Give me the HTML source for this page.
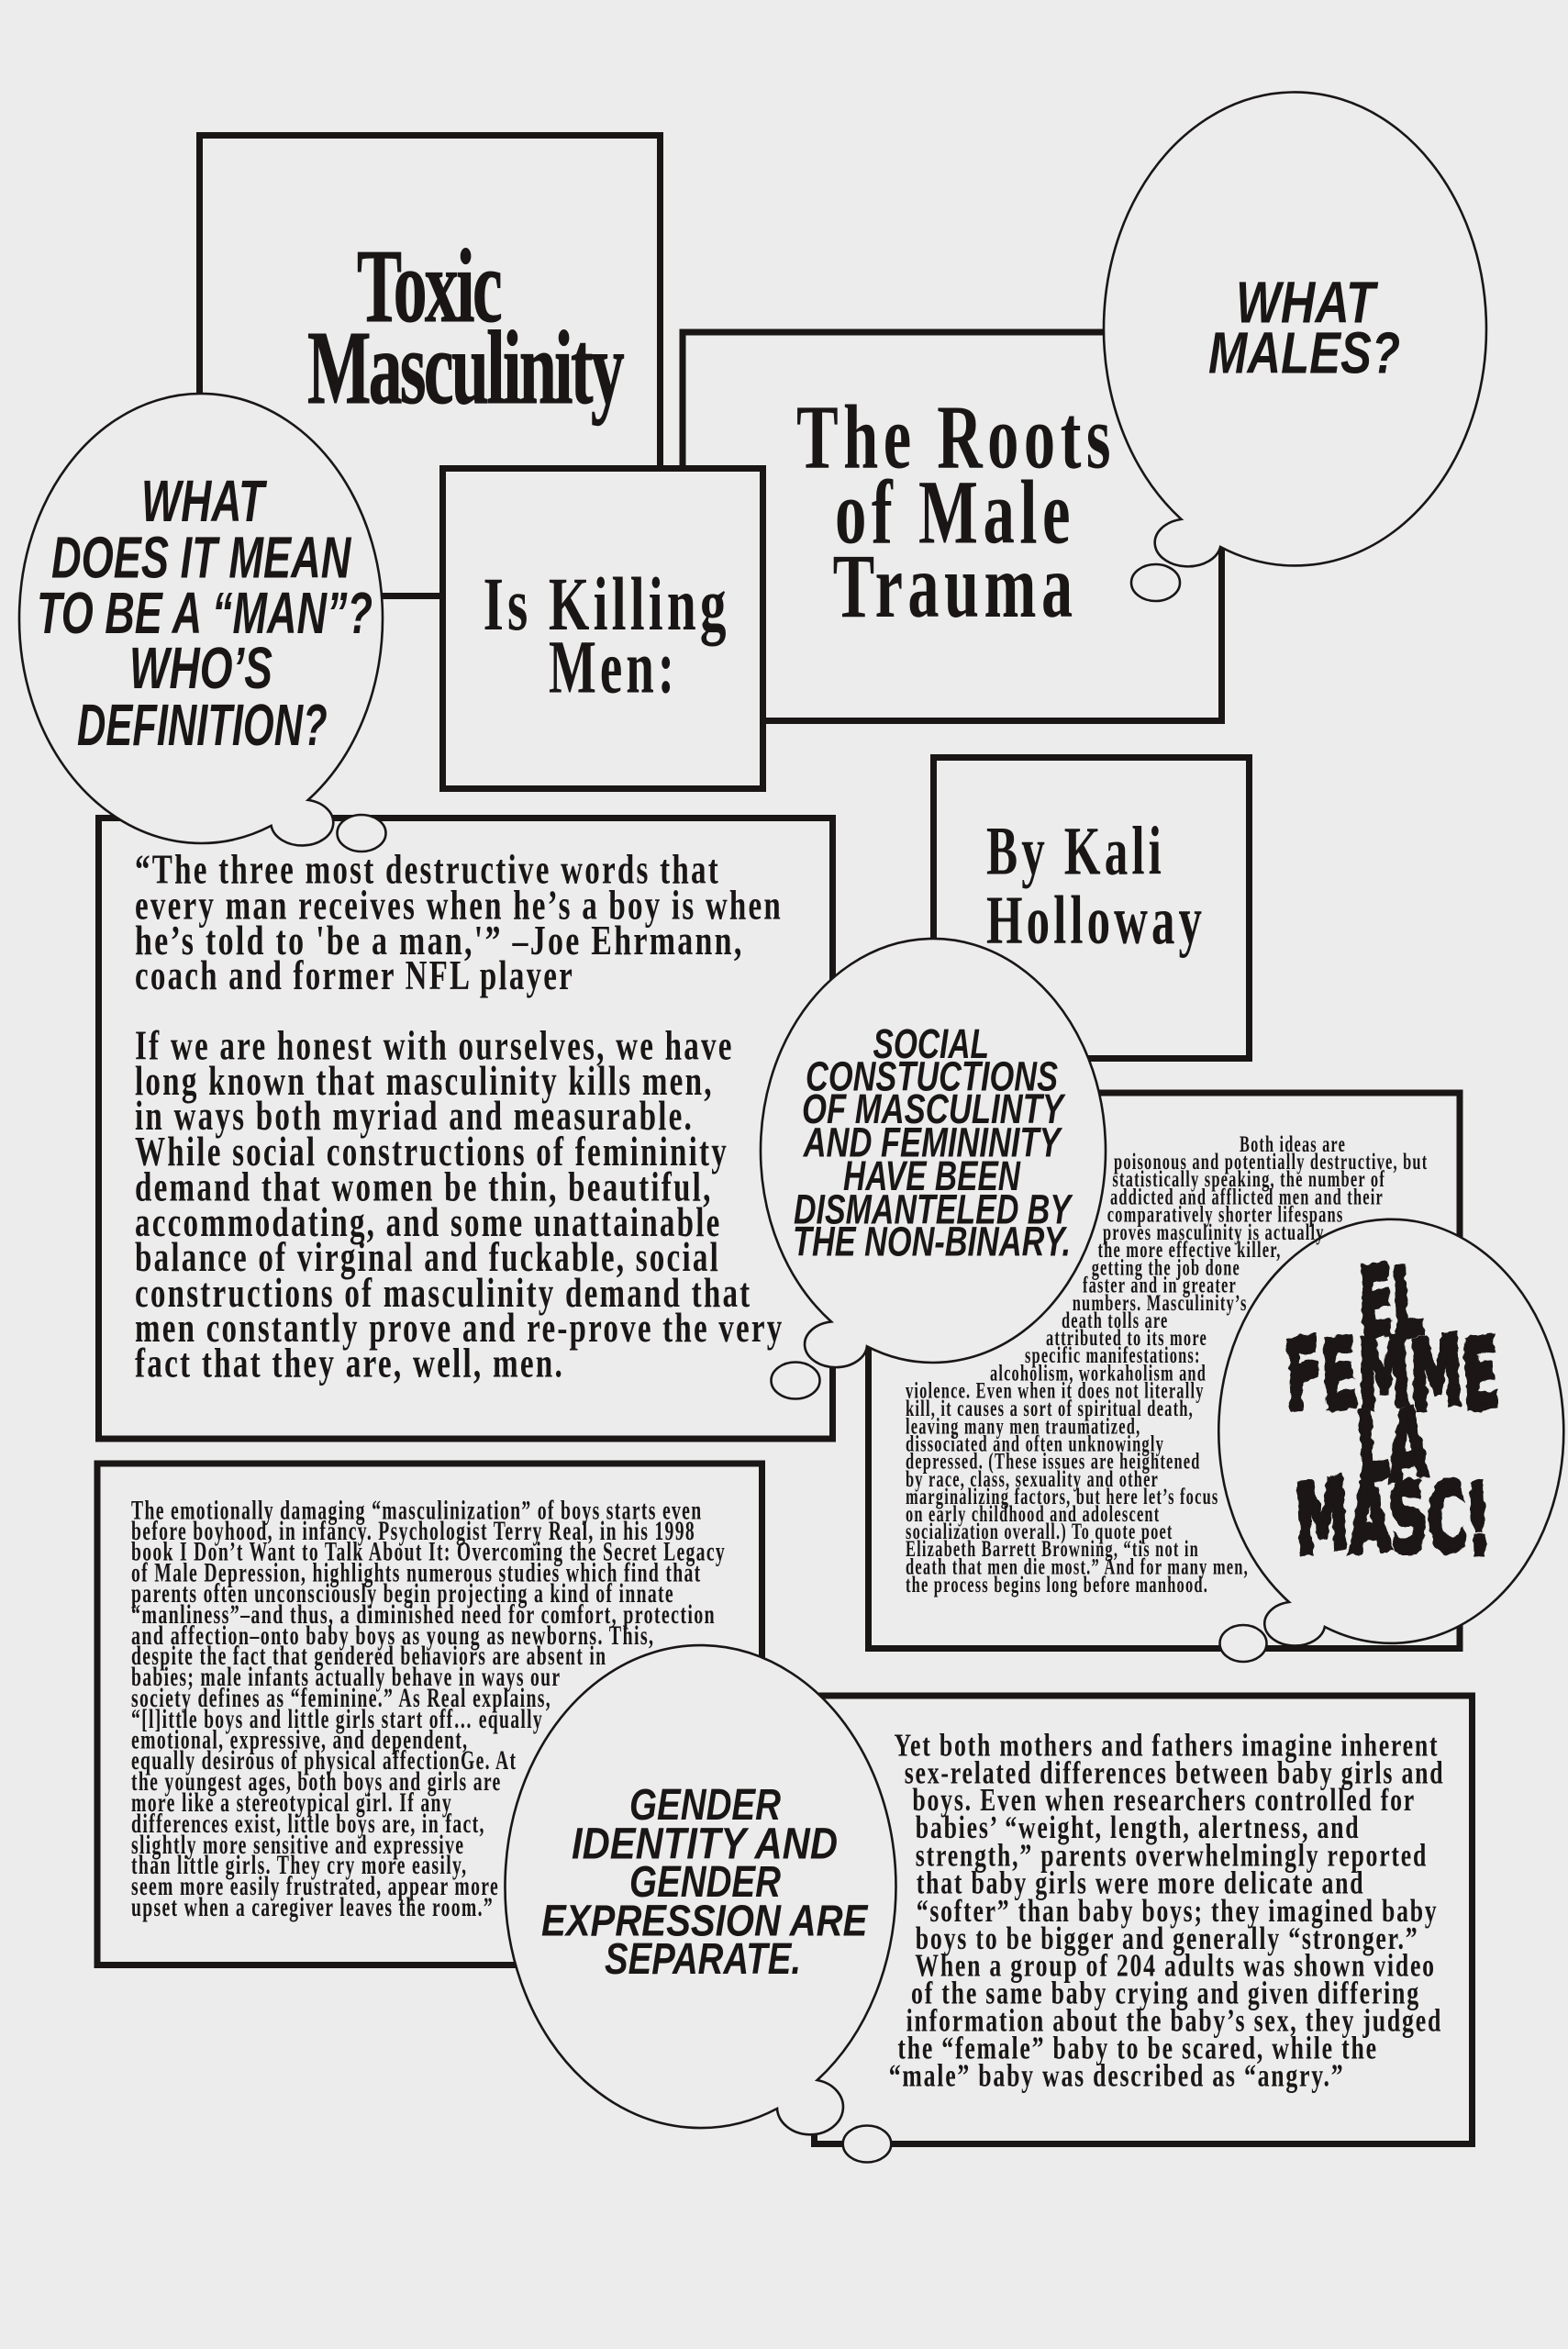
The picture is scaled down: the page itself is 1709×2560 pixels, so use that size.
<!DOCTYPE html>
<html lang="en">
<head>
<meta charset="utf-8">
<title>Toxic Masculinity Is Killing Men</title>
<style>
html,body{margin:0;padding:0;background:#ececec;width:1709px;height:2560px;overflow:hidden}
svg{display:block}
.box{fill:#ececec;stroke:#1a1616;stroke-width:7}
.bub{fill:#ececec;stroke:#1a1616;stroke-width:2.6}
text{fill:#1a1616;white-space:pre}
.s{font-family:"Liberation Serif",serif;font-weight:700}
.t0{font-size:114px;letter-spacing:-4px;stroke:#1a1616;stroke-width:1}
.t1{font-size:100px;letter-spacing:8px}
.t2{font-size:83px;letter-spacing:6px}
.t3{font-size:75px;letter-spacing:6px}
.b1{font-size:45px;letter-spacing:3px}
.b2{font-size:25px;letter-spacing:1.8px}
.b3{font-size:30px;letter-spacing:2px}
.b4{font-size:35px;letter-spacing:2.4px}
.c{font-family:"Liberation Sans",sans-serif;font-weight:700;font-style:italic}
.c1{font-size:64px}
.c2{font-size:45px}
.c3{font-size:48px}
.h{font-family:"DejaVu Sans",sans-serif;font-weight:700;font-size:104px;stroke:#1a1616;stroke-width:6}
</style>
</head>
<body>
<svg width="1709" height="2560" viewBox="0 0 1709 2560" xmlns="http://www.w3.org/2000/svg">
<defs>
<filter id="jag" x="-5%" y="-5%" width="110%" height="110%">
<feTurbulence type="fractalNoise" baseFrequency="0.09" numOctaves="2" seed="4"/>
<feDisplacementMap in="SourceGraphic" scale="8" xChannelSelector="R" yChannelSelector="G"/>
</filter>
</defs>
<rect width="1709" height="2560" fill="#ececec"/>

<!-- boxes -->
<rect class="box" x="217.5" y="147.5" width="502" height="502"/>
<rect class="box" x="744" y="362" width="587.5" height="423.5"/>
<rect class="box" x="482.5" y="510.5" width="349" height="349"/>
<rect class="box" x="107.5" y="891.5" width="800" height="676.5"/>
<rect class="box" x="1017.5" y="825.5" width="344" height="328"/>
<rect class="box" x="946.5" y="1191" width="644.5" height="605.5"/>
<rect class="box" x="106" y="1595" width="724.5" height="546.5"/>
<rect class="box" x="887.5" y="1848" width="717" height="488.5"/>

<!-- bubbles -->
<path class="bub" d="M1330.1 596 A208.5 258 0 1 0 1287.5 565.9 A36 26 0 1 0 1330.1 596 Z"/>
<ellipse class="bub" cx="1259.5" cy="635" rx="26.5" ry="20"/>
<path class="bub" d="M295.6 899.9 A198 245 0 1 1 335.7 871.9 A34 25 0 1 1 295.6 899.9 Z"/>
<ellipse class="bub" cx="394" cy="908" rx="26.5" ry="20"/>
<path class="bub" d="M944.9 1467.3 A188 231 0 1 0 906 1440.4 A34 25 0 1 0 944.9 1467.3 Z"/>
<ellipse class="bub" cx="867" cy="1504.5" rx="26.5" ry="20"/>
<path class="bub" d="M1443.9 1773 A188 231 0 1 0 1405 1746 A33 24 0 1 0 1443.9 1773 Z"/>
<ellipse class="bub" cx="1355" cy="1791" rx="25.5" ry="20"/>
<path class="bub" d="M847 2298 A213 263 0 1 1 890.7 2267 A36 30 0 1 1 847 2298 Z"/>
<ellipse class="bub" cx="945" cy="2336.5" rx="26.3" ry="20"/>

<!-- titles -->
<g class="s t0">
<text x="389" y="350" textLength="156" lengthAdjust="spacingAndGlyphs">Toxic</text>
<text x="335" y="439" textLength="343" lengthAdjust="spacingAndGlyphs">Masculinity</text>
</g>
<g class="s t1">
<text x="868" y="509.6" textLength="348" lengthAdjust="spacingAndGlyphs">The Roots</text>
<text x="910" y="591.7" textLength="262" lengthAdjust="spacingAndGlyphs">of Male</text>
<text x="907.6" y="672" textLength="267" lengthAdjust="spacingAndGlyphs">Trauma</text>
</g>
<g class="s t2">
<text x="526.6" y="686" textLength="269" lengthAdjust="spacingAndGlyphs">Is Killing</text>
<text x="598" y="754.7" textLength="141" lengthAdjust="spacingAndGlyphs">Men:</text>
</g>
<g class="s t3">
<text x="1075" y="952.7" textLength="195" lengthAdjust="spacingAndGlyphs">By Kali</text>
<text x="1075" y="1028" textLength="239" lengthAdjust="spacingAndGlyphs">Holloway</text>
</g>

<!-- body 1 -->
<g class="s b1">
<text x="147" y="962.6" textLength="638" lengthAdjust="spacingAndGlyphs">“The three most destructive words that</text>
<text x="147" y="1001.4" textLength="706" lengthAdjust="spacingAndGlyphs">every man receives when he’s a boy is when</text>
<text x="147" y="1039.8" textLength="663.6" lengthAdjust="spacingAndGlyphs">he’s told to 'be a man,'” –Joe Ehrmann,</text>
<text x="147" y="1078" textLength="479" lengthAdjust="spacingAndGlyphs">coach and former NFL player</text>
<text x="147" y="1154.5" textLength="652.7" lengthAdjust="spacingAndGlyphs">If we are honest with ourselves, we have</text>
<text x="147" y="1193" textLength="630.7" lengthAdjust="spacingAndGlyphs">long known that masculinity kills men,</text>
<text x="147" y="1231" textLength="609" lengthAdjust="spacingAndGlyphs">in ways both myriad and measurable.</text>
<text x="147" y="1270" textLength="647" lengthAdjust="spacingAndGlyphs">While social constructions of femininity</text>
<text x="147" y="1308.5" textLength="629.6" lengthAdjust="spacingAndGlyphs">demand that women be thin, beautiful,</text>
<text x="147" y="1347" textLength="639.5" lengthAdjust="spacingAndGlyphs">accommodating, and some unattainable</text>
<text x="147" y="1385" textLength="638" lengthAdjust="spacingAndGlyphs">balance of virginal and fuckable, social</text>
<text x="147" y="1424" textLength="672.4" lengthAdjust="spacingAndGlyphs">constructions of masculinity demand that</text>
<text x="147" y="1462" textLength="707.5" lengthAdjust="spacingAndGlyphs">men constantly prove and re-prove the very</text>
<text x="147" y="1500.5" textLength="468" lengthAdjust="spacingAndGlyphs">fact that they are, well, men.</text>
</g>

<!-- body 2 -->
<g class="s b2">
<text x="1351" y="1255" textLength="116" lengthAdjust="spacingAndGlyphs">Both ideas are</text>
<text x="1214" y="1274" textLength="342.4" lengthAdjust="spacingAndGlyphs">poisonous and potentially destructive, but</text>
<text x="1212.4" y="1293" textLength="297.6" lengthAdjust="spacingAndGlyphs">statistically speaking, the number of</text>
<text x="1210" y="1312.4" textLength="298" lengthAdjust="spacingAndGlyphs">addicted and afflicted men and their</text>
<text x="1206.7" y="1331.5" textLength="257.8" lengthAdjust="spacingAndGlyphs">comparatively shorter lifespans</text>
<text x="1202" y="1351" textLength="241.6" lengthAdjust="spacingAndGlyphs">proves masculinity is actually</text>
<text x="1196.5" y="1370" textLength="200" lengthAdjust="spacingAndGlyphs">the more effective killer,</text>
<text x="1189.7" y="1389.5" textLength="162.3" lengthAdjust="spacingAndGlyphs">getting the job done</text>
<text x="1180" y="1408.7" textLength="168" lengthAdjust="spacingAndGlyphs">faster and in greater</text>
<text x="1168.7" y="1428" textLength="190.9" lengthAdjust="spacingAndGlyphs">numbers. Masculinity’s</text>
<text x="1157" y="1447" textLength="116.5" lengthAdjust="spacingAndGlyphs">death tolls are</text>
<text x="1140" y="1466" textLength="176" lengthAdjust="spacingAndGlyphs">attributed to its more</text>
<text x="1117" y="1485" textLength="191.6" lengthAdjust="spacingAndGlyphs">specific manifestations:</text>
<text x="1079" y="1504.4" textLength="236" lengthAdjust="spacingAndGlyphs">alcoholism, workaholism and</text>
<text x="987" y="1523.5" textLength="325.6" lengthAdjust="spacingAndGlyphs">violence. Even when it does not literally</text>
<text x="987" y="1543" textLength="314" lengthAdjust="spacingAndGlyphs">kill, it causes a sort of spiritual death,</text>
<text x="987" y="1562.4" textLength="256.4" lengthAdjust="spacingAndGlyphs">leaving many men traumatized,</text>
<text x="987" y="1581.5" textLength="282" lengthAdjust="spacingAndGlyphs">dissociated and often unknowingly</text>
<text x="987" y="1600.7" textLength="321.6" lengthAdjust="spacingAndGlyphs">depressed. (These issues are heightened</text>
<text x="987" y="1620" textLength="276" lengthAdjust="spacingAndGlyphs">by race, class, sexuality and other</text>
<text x="987" y="1639" textLength="341.5" lengthAdjust="spacingAndGlyphs">marginalizing factors, but here let’s focus</text>
<text x="987" y="1658" textLength="277.4" lengthAdjust="spacingAndGlyphs">on early childhood and adolescent</text>
<text x="987" y="1677" textLength="291.6" lengthAdjust="spacingAndGlyphs">socialization overall.) To quote poet</text>
<text x="987" y="1696" textLength="320" lengthAdjust="spacingAndGlyphs">Elizabeth Barrett Browning, “tis not in</text>
<text x="987" y="1715.5" textLength="374" lengthAdjust="spacingAndGlyphs">death that men die most.” And for many men,</text>
<text x="987" y="1735" textLength="330" lengthAdjust="spacingAndGlyphs">the process begins long before manhood.</text>
</g>

<!-- body 3 -->
<g class="s b3">
<text x="143" y="1655.5" textLength="622.5" lengthAdjust="spacingAndGlyphs">The emotionally damaging “masculinization” of boys starts even</text>
<text x="143" y="1678" textLength="615" lengthAdjust="spacingAndGlyphs">before boyhood, in infancy. Psychologist Terry Real, in his 1998</text>
<text x="143" y="1700.4" textLength="648" lengthAdjust="spacingAndGlyphs">book I Don’t Want to Talk About It: Overcoming the Secret Legacy</text>
<text x="143" y="1723.4" textLength="621.5" lengthAdjust="spacingAndGlyphs">of Male Depression, highlights numerous studies which find that</text>
<text x="143" y="1746" textLength="592" lengthAdjust="spacingAndGlyphs">parents often unconsciously begin projecting a kind of innate</text>
<text x="143" y="1769" textLength="637" lengthAdjust="spacingAndGlyphs">“manliness”–and thus, a diminished need for comfort, protection</text>
<text x="143" y="1792" textLength="570.4" lengthAdjust="spacingAndGlyphs">and affection–onto baby boys as young as newborns. This,</text>
<text x="143" y="1814" textLength="518.4" lengthAdjust="spacingAndGlyphs">despite the fact that gendered behaviors are absent in</text>
<text x="143" y="1837" textLength="468.4" lengthAdjust="spacingAndGlyphs">babies; male infants actually behave in ways our</text>
<text x="143" y="1860" textLength="458" lengthAdjust="spacingAndGlyphs">society defines as “feminine.” As Real explains,</text>
<text x="143" y="1883" textLength="449" lengthAdjust="spacingAndGlyphs">“[l]ittle boys and little girls start off… equally</text>
<text x="143" y="1905.5" textLength="367.4" lengthAdjust="spacingAndGlyphs">emotional, expressive, and dependent,</text>
<text x="143" y="1928" textLength="420.4" lengthAdjust="spacingAndGlyphs">equally desirous of physical affectionGe. At</text>
<text x="143" y="1951" textLength="403.6" lengthAdjust="spacingAndGlyphs">the youngest ages, both boys and girls are</text>
<text x="143" y="1974" textLength="350" lengthAdjust="spacingAndGlyphs">more like a stereotypical girl. If any</text>
<text x="143" y="1997" textLength="385.8" lengthAdjust="spacingAndGlyphs">differences exist, little boys are, in fact,</text>
<text x="143" y="2020" textLength="363.3" lengthAdjust="spacingAndGlyphs">slightly more sensitive and expressive</text>
<text x="143" y="2042" textLength="366.4" lengthAdjust="spacingAndGlyphs">than little girls. They cry more easily,</text>
<text x="143" y="2065" textLength="401" lengthAdjust="spacingAndGlyphs">seem more easily frustrated, appear more</text>
<text x="143" y="2088" textLength="395" lengthAdjust="spacingAndGlyphs">upset when a caregiver leaves the room.”</text>
</g>

<!-- body 4 -->
<g class="s b4">
<text x="974.5" y="1913.7" textLength="593.9" lengthAdjust="spacingAndGlyphs">Yet both mothers and fathers imagine inherent</text>
<text x="985.7" y="1943.3" textLength="588.7" lengthAdjust="spacingAndGlyphs">sex-related differences between baby girls and</text>
<text x="994.4" y="1973" textLength="548.6" lengthAdjust="spacingAndGlyphs">boys. Even when researchers controlled for</text>
<text x="997.8" y="2003" textLength="484.6" lengthAdjust="spacingAndGlyphs">babies’ “weight, length, alertness, and</text>
<text x="997.8" y="2033.5" textLength="558.3" lengthAdjust="spacingAndGlyphs">strength,” parents overwhelmingly reported</text>
<text x="998.8" y="2063.5" textLength="488.6" lengthAdjust="spacingAndGlyphs">that baby girls were more delicate and</text>
<text x="998.8" y="2093.8" textLength="568.6" lengthAdjust="spacingAndGlyphs">“softer” than baby boys; they imagined baby</text>
<text x="997.8" y="2123.8" textLength="548.6" lengthAdjust="spacingAndGlyphs">boys to be bigger and generally “stronger.”</text>
<text x="997.3" y="2153.4" textLength="567.5" lengthAdjust="spacingAndGlyphs">When a group of 204 adults was shown video</text>
<text x="993" y="2183.3" textLength="554.9" lengthAdjust="spacingAndGlyphs">of the same baby crying and given differing</text>
<text x="987.6" y="2213.3" textLength="584.5" lengthAdjust="spacingAndGlyphs">information about the baby’s sex, they judged</text>
<text x="978.4" y="2243.6" textLength="523.4" lengthAdjust="spacingAndGlyphs">the “female” baby to be scared, while the</text>
<text x="968.7" y="2273.6" textLength="496.7" lengthAdjust="spacingAndGlyphs">“male” baby was described as “angry.”</text>
</g>

<!-- comic text -->
<g class="c c1">
<text x="154" y="568" textLength="134" lengthAdjust="spacingAndGlyphs">WHAT</text>
<text x="56" y="629.6" textLength="326.4" lengthAdjust="spacingAndGlyphs">DOES IT MEAN</text>
<text x="40" y="690" textLength="366" lengthAdjust="spacingAndGlyphs">TO BE A “MAN”?</text>
<text x="141" y="750" textLength="156" lengthAdjust="spacingAndGlyphs">WHO’S</text>
<text x="84" y="812" textLength="272.6" lengthAdjust="spacingAndGlyphs">DEFINITION?</text>
<text x="1347" y="351.4" textLength="151.6" lengthAdjust="spacingAndGlyphs">WHAT</text>
<text x="1317" y="406.5" textLength="209" lengthAdjust="spacingAndGlyphs">MALES?</text>
</g>
<g class="c c2">
<text x="951.5" y="1153" textLength="126.5" lengthAdjust="spacingAndGlyphs">SOCIAL</text>
<text x="878" y="1188.6" textLength="275" lengthAdjust="spacingAndGlyphs">CONSTUCTIONS</text>
<text x="874" y="1224" textLength="285" lengthAdjust="spacingAndGlyphs">OF MASCULINTY</text>
<text x="875.6" y="1260.7" textLength="280" lengthAdjust="spacingAndGlyphs">AND FEMININITY</text>
<text x="919" y="1297" textLength="193" lengthAdjust="spacingAndGlyphs">HAVE BEEN</text>
<text x="865" y="1333.4" textLength="302" lengthAdjust="spacingAndGlyphs">DISMANTELED BY</text>
<text x="864" y="1368.5" textLength="303" lengthAdjust="spacingAndGlyphs">THE NON-BINARY.</text>
</g>
<g class="c c3">
<text x="686" y="1983" textLength="165" lengthAdjust="spacingAndGlyphs">GENDER</text>
<text x="623" y="2025.4" textLength="290" lengthAdjust="spacingAndGlyphs">IDENTITY AND</text>
<text x="686" y="2067" textLength="165" lengthAdjust="spacingAndGlyphs">GENDER</text>
<text x="590" y="2109.6" textLength="355.4" lengthAdjust="spacingAndGlyphs">EXPRESSION ARE</text>
<text x="659" y="2151" textLength="214" lengthAdjust="spacingAndGlyphs">SEPARATE.</text>
</g>

<!-- horror text -->
<g class="h" filter="url(#jag)">
<text x="1483" y="1458" textLength="70" lengthAdjust="spacingAndGlyphs" rotate="-5">EL</text>
<text x="1403" y="1537" textLength="232" lengthAdjust="spacingAndGlyphs" rotate="-5">FEMME</text>
<text x="1481" y="1614" textLength="76" lengthAdjust="spacingAndGlyphs" rotate="-5">LA</text>
<text x="1414" y="1694" textLength="212" lengthAdjust="spacingAndGlyphs" rotate="-5">MASC!</text>
</g>
</svg>
</body>
</html>
